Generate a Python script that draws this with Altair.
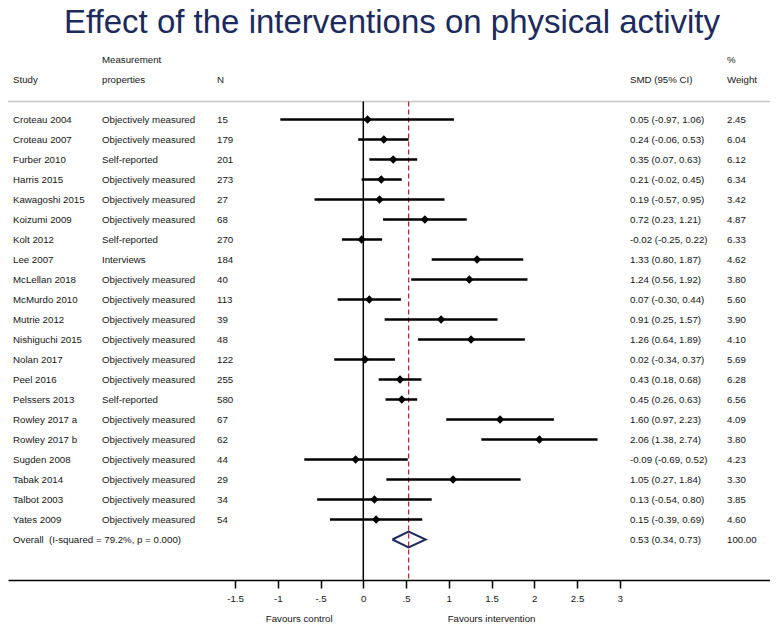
import altair as alt
import pandas as pd

TITLE = "Effect of the interventions on physical activity"

STUDIES = ["Croteau 2004", "Croteau 2007", "Furber 2010", "Harris 2015", "Kawagoshi 2015",
           "Koizumi 2009", "Kolt 2012", "Lee 2007", "McLellan 2018", "McMurdo 2010",
           "Mutrie 2012", "Nishiguchi 2015", "Nolan 2017", "Peel 2016", "Pelssers 2013",
           "Rowley 2017 a", "Rowley 2017 b", "Sugden 2008", "Tabak 2014", "Talbot 2003",
           "Yates 2009"]
MEASUREMENT = ["Objectively measured", "Objectively measured", "Self-reported",
               "Objectively measured", "Objectively measured", "Objectively measured",
               "Self-reported", "Interviews", "Objectively measured", "Objectively measured",
               "Objectively measured", "Objectively measured", "Objectively measured",
               "Objectively measured", "Self-reported", "Objectively measured",
               "Objectively measured", "Objectively measured", "Objectively measured",
               "Objectively measured", "Objectively measured"]
N = [15, 179, 201, 273, 27, 68, 270, 184, 40, 113, 39, 48, 122, 255, 580, 67, 62, 44, 29, 34, 54]
SMD = [0.05, 0.24, 0.35, 0.21, 0.19, 0.72, -0.02, 1.33, 1.24, 0.07, 0.91, 1.26, 0.02, 0.43,
       0.45, 1.60, 2.06, -0.09, 1.05, 0.13, 0.15]
LOWER = [-0.97, -0.06, 0.07, -0.02, -0.57, 0.23, -0.25, 0.80, 0.56, -0.30, 0.25, 0.64, -0.34,
         0.18, 0.26, 0.97, 1.38, -0.69, 0.27, -0.54, -0.39]
UPPER = [1.06, 0.53, 0.63, 0.45, 0.95, 1.21, 0.22, 1.87, 1.92, 0.44, 1.57, 1.89, 0.37, 0.68,
         0.63, 2.23, 2.74, 0.52, 1.84, 0.80, 0.69]
WEIGHT = [2.45, 6.04, 6.12, 6.34, 3.42, 4.87, 6.33, 4.62, 3.80, 5.60, 3.90, 4.10, 5.69, 6.28,
          6.56, 4.09, 3.80, 4.23, 3.30, 3.85, 4.60]

OVERALL_LABEL = "Overall\u00a0 (I-squared = 79.2%, p = 0.000)"
OVERALL_SMD = 0.53
OVERALL_LOWER = 0.34
OVERALL_UPPER = 0.73
OVERALL_WEIGHT = 100.00

HEADER_TOP = ["Measurement", "%"]
HEADER = ["Study", "properties", "N", "SMD (95% CI)", "Weight"]
TICKS = [-1.5, -1, -0.5, 0, 0.5, 1, 1.5, 2, 2.5, 3]
FAVOURS = ["Favours control", "Favours intervention"]
FAVOURS_AT = [-0.75, 1.5]

FONT = "Liberation Sans"
FS = 9.7
TXT = "#151515"
NAVY = "#1c2a5e"
RED = "#a3323c"

W, H = 762, 572
BOTTOM_PAD = 46

rows = pd.DataFrame({
    "study": STUDIES, "meas": MEASUREMENT, "n": [str(v) for v in N],
    "smd": SMD, "lo": LOWER, "hi": UPPER, "row": list(range(len(STUDIES))),
})
rows["ci"] = [f"{s:.2f} ({l:.2f}, {u:.2f})" for s, l, u in zip(SMD, LOWER, UPPER)]
rows["wt"] = [f"{w:.2f}" for w in WEIGHT]

orow = len(STUDIES)
overall = pd.DataFrame({
    "label": [OVERALL_LABEL], "row": [orow],
    "ci": [f"{OVERALL_SMD:.2f} ({OVERALL_LOWER:.2f}, {OVERALL_UPPER:.2f})"],
    "wt": [f"{OVERALL_WEIGHT:.2f}"],
})
diamond = pd.DataFrame({
    "x": [OVERALL_LOWER, OVERALL_SMD, OVERALL_UPPER, OVERALL_SMD, OVERALL_LOWER],
    "y": [orow, orow - 0.4, orow, orow + 0.4, orow],
    "o": [0, 1, 2, 3, 4],
})
fav = pd.DataFrame({"t": FAVOURS, "x": FAVOURS_AT})
title_df = pd.DataFrame({"t": [TITLE]})

unit = 85.5
zero_px = 355.3
xs = alt.Scale(domain=[-zero_px / unit, (W - zero_px) / unit], nice=False, zero=False)
ys = alt.Scale(domain=[-5.575, -5.575 + H / 20.0], reverse=True, nice=False, zero=False)

label_expr = ("datum.value == 0 ? '0' : (datum.value < 0 ? '-' : '') + "
              "replace(format(abs(datum.value), ''), '0.', '.')")
x_axis = alt.Axis(values=TICKS, labelExpr=label_expr, title=None, grid=False,
                  domainColor="black", domainWidth=1.5, tickColor="black", tickWidth=1.5,
                  tickSize=8, labelFont=FONT, labelFontSize=FS, labelColor=TXT,
                  labelPadding=5, orient="bottom")


def X(field):
    return alt.X(f"{field}:Q", scale=xs, axis=x_axis, title=None)


def txt(data, field, xpx, ycol="row", align="left"):
    return alt.Chart(data).mark_text(align=align, baseline="middle", font=FONT,
                                     fontSize=FS, color=TXT).encode(
        x=alt.value(xpx), y=alt.Y(f"{ycol}:Q", scale=ys, axis=None), text=f"{field}:N")


COLX = {"study": 5, "meas": 94, "n": 209, "ci": 622, "wt": 719}

ref_df = pd.DataFrame({"zero": [0.0], "pooled": [OVERALL_SMD]})

header_line = alt.Chart(title_df).mark_rule(color="#c6c6c6", strokeWidth=1.5).encode(
    x=alt.value(0), x2=alt.value(W), y=alt.value(93.5))

vline0 = alt.Chart(ref_df).mark_rule(color="black", strokeWidth=1.5).encode(
    x=X("zero"), y=alt.value(93.5), y2=alt.value(H))
vline_overall = alt.Chart(ref_df).mark_rule(color=RED, strokeWidth=1.3,
                                            strokeDash=[5, 3]).encode(
    x=X("pooled"), y=alt.value(93.5), y2=alt.value(H))

ci = alt.Chart(rows).mark_rule(color="black", strokeWidth=2.4).encode(
    x=X("lo"), x2="hi:Q", y=alt.Y("row:Q", scale=ys, axis=None))
pts = alt.Chart(rows).mark_point(shape="diamond", filled=True, color="black", size=70,
                                 opacity=1).encode(
    x=X("smd"), y=alt.Y("row:Q", scale=ys, axis=None))

dia = alt.Chart(diamond).mark_line(color=NAVY, strokeWidth=2).encode(
    x=X("x"), y=alt.Y("y:Q", scale=ys, axis=None), order="o:Q")

hx = [COLX["study"], COLX["meas"], COLX["n"], COLX["ci"], COLX["wt"]]
header_layers = []
for t, xp in zip(HEADER, hx):
    header_layers.append(txt(pd.DataFrame({"t": [t], "row": [-2]}), "t", xp))
for t, xp in zip(HEADER_TOP, [COLX["meas"], COLX["wt"]]):
    header_layers.append(txt(pd.DataFrame({"t": [t], "row": [-3]}), "t", xp))

row_layers = [txt(rows, k, COLX[k]) for k in ["study", "meas", "n", "ci", "wt"]]
overall_layers = [txt(overall, "label", COLX["study"]), txt(overall, "ci", COLX["ci"]),
                  txt(overall, "wt", COLX["wt"])]

fav_layer = alt.Chart(fav).mark_text(align="center", baseline="middle", font=FONT,
                                     fontSize=FS, color=TXT).encode(
    x=X("x"), y=alt.value(611), text="t:N")

title_layer = alt.Chart(title_df).mark_text(align="center", baseline="alphabetic",
                                            font=FONT, fontSize=33, color=NAVY).encode(
    x=alt.value(W / 2 + 3), y=alt.value(25), text="t:N")

chart = alt.layer(
    header_line, vline0, vline_overall, ci, pts, dia, *header_layers, *row_layers,
    *overall_layers, fav_layer, title_layer
).properties(
    width=W, height=H, autosize=alt.AutoSizeParams(type="none"),
    padding={"left": 0, "top": 0, "right": 0, "bottom": BOTTOM_PAD},
    background="white"
).configure_view(stroke=None)

chart.save("out.html", embed_options={"renderer": "svg", "actions": False})
